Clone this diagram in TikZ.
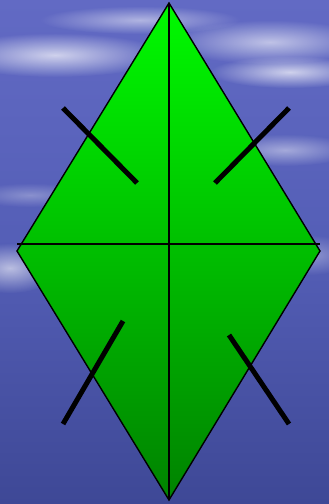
\documentclass[tikz,border=0pt]{standalone}
\usetikzlibrary{fadings}
\definecolor{skytop}{RGB}{98,106,196}
\definecolor{skymid}{RGB}{84,94,182}
\definecolor{skybot}{RGB}{62,72,150}
\definecolor{greentop}{RGB}{0,250,0}
\definecolor{greenbot}{RGB}{0,130,0}
\tikzfading[name=softcirc, inner color=transparent!0, outer color=transparent!100]
\tikzset{
  cloud/.style={fill=white, fill opacity=#1, path fading=softcirc},
  tick/.style={line width=5pt, black},
  axis/.style={line width=1.6pt, black},
  kite/.style={draw=black, line width=1.4pt, line join=miter, top color=greentop, bottom color=greenbot}
}
\begin{document}
\begin{tikzpicture}[x=1pt,y=-1pt]
\useasboundingbox (0,0) rectangle (329,504);
% background sky
\shade[top color=skytop, bottom color=skybot, middle color=skymid] (0,0) rectangle (329,504);
% clouds
\fill[cloud=0.7] (55,55) ellipse (110 and 22);
\fill[cloud=0.5] (140,20) ellipse (100 and 14);
\fill[cloud=0.6] (270,42) ellipse (100 and 22);
\fill[cloud=0.7] (290,72) ellipse (80 and 16);
\fill[cloud=0.45] (285,150) ellipse (70 and 16);
\fill[cloud=0.6] (10,268) ellipse (50 and 25);
\fill[cloud=0.35] (310,255) ellipse (45 and 20);
\fill[cloud=0.3] (30,195) ellipse (60 and 12);
% figure
\coordinate (T) at (169,3);
\coordinate (L) at (17,251);
\coordinate (R) at (320,251);
\coordinate (B) at (169,500);
\coordinate (HL) at (17,244);
\coordinate (HR) at (320,244);
\path[kite] (T) -- (R) -- (B) -- (L) -- cycle;
\draw[axis] (T) -- (B);
\draw[axis] (HL) -- (HR);
% ticks
\coordinate (a1) at (63,108); \coordinate (a2) at (137,183);
\coordinate (b1) at (289,108); \coordinate (b2) at (215,183);
\coordinate (c1) at (123,321); \coordinate (c2) at (63,424);
\coordinate (d1) at (229,335); \coordinate (d2) at (289,424);
\draw[tick] (a1) -- (a2);
\draw[tick] (b1) -- (b2);
\draw[tick] (c1) -- (c2);
\draw[tick] (d1) -- (d2);
\end{tikzpicture}
\end{document}
